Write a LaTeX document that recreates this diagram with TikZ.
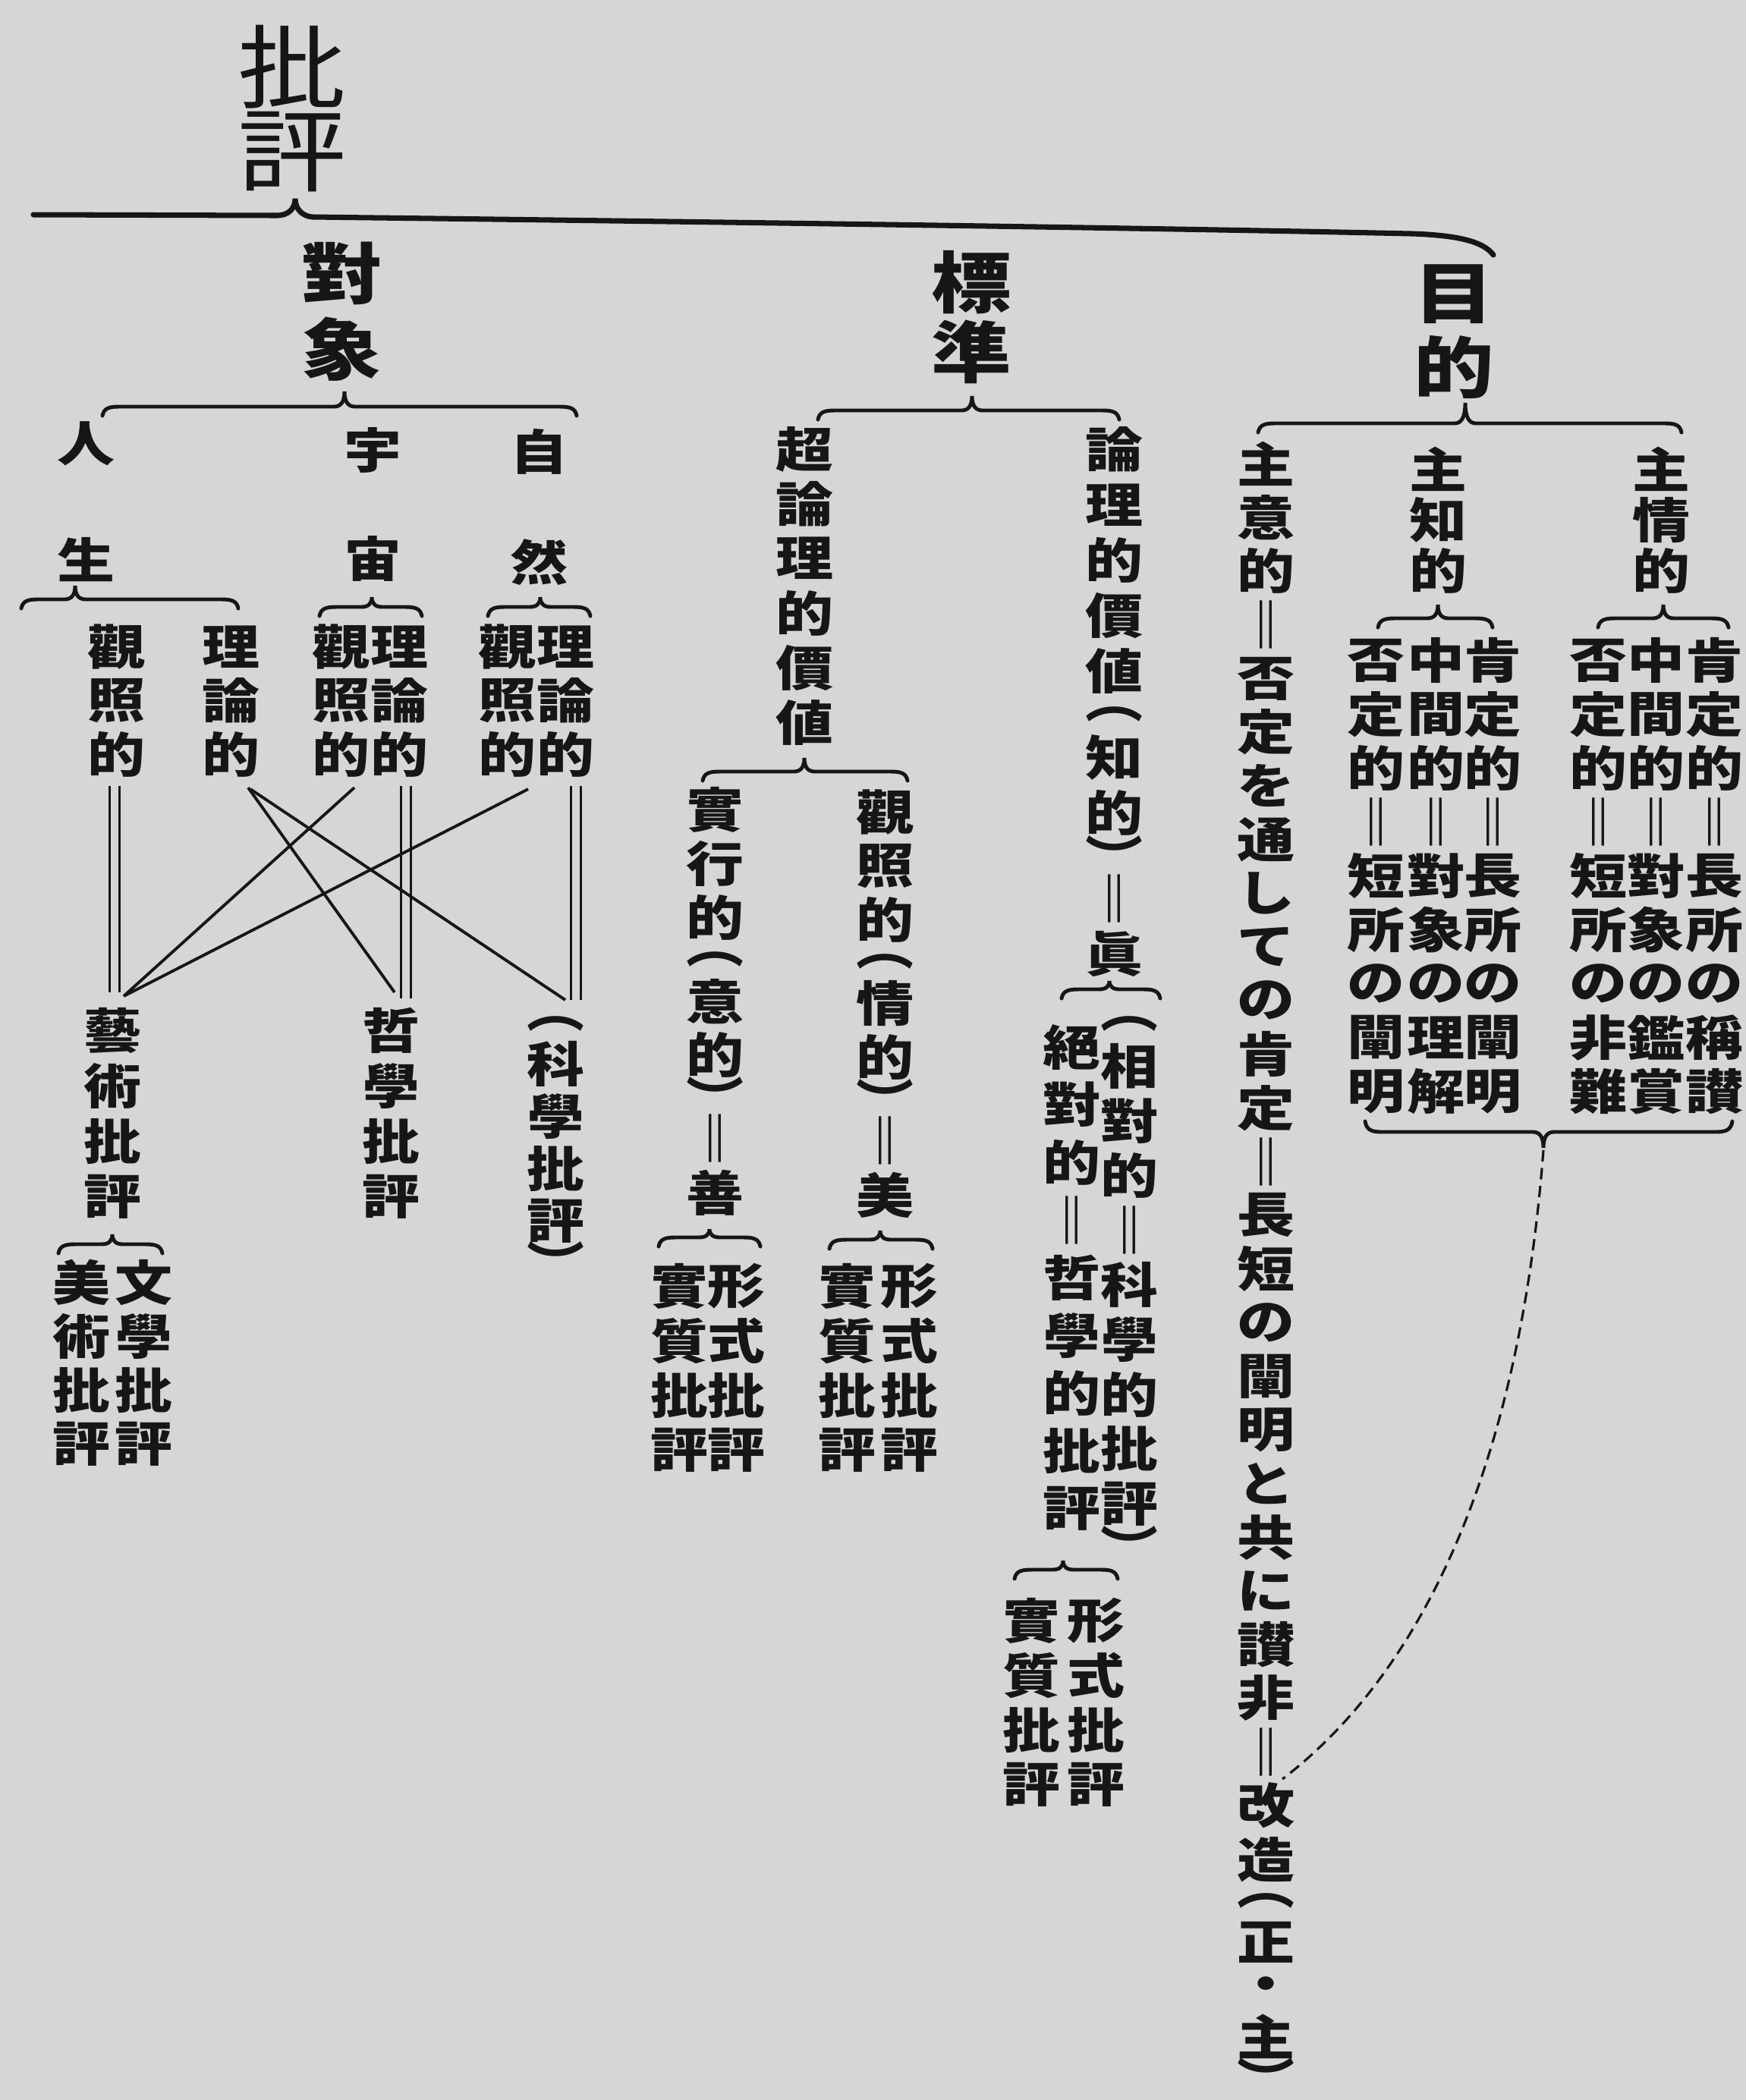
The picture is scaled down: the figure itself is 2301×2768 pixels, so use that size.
\documentclass[tikz,border=0pt]{standalone}
\usepackage{fontspec}
\setmainfont{Noto Sans CJK JP}
\usepackage{graphicx}
\usetikzlibrary{calc}
\definecolor{bg}{RGB}{214,214,212}
\definecolor{ink}{RGB}{22,22,22}
\newlength\vpitch
\newlength\vcw
\makeatletter
\def\vs@end{\vs@end}
\newcommand\vcol[1]{\vbox{\offinterlineskip\vs@#1\vs@end}}
\def\vs@#1{\ifx\vs@end#1\else\vs@cell#1\expandafter\vs@\fi}
\def\vs@cell#1{\ifx︵#1\vs@box{0.55}{#1}\else\ifx︶#1\vs@box{0.55}{#1}\else\ifx・#1\vs@box{0.75}{#1}\else\vs@box{1}{#1}\fi\fi\fi}
\def\vs@box#1#2{\hbox to \vcw{\hss\vbox to #1\vpitch{\vss\hbox{\scalebox{1.2}[1]{#2}}\vss}\hss}}
\makeatother
\tikzset{
  vt/.style={inner sep=0pt, outer sep=0pt, anchor=north, text=ink,
    font={\fontsize{34}{34}\selectfont\setlength\vpitch{#1}\setlength\vcw{1.2em}}},
  vt/.default=1.12cm,
  vh/.style={inner sep=0pt, outer sep=0pt, anchor=north, text=ink,
    font={\fontsize{25}{25}\selectfont\bfseries\setlength\vpitch{#1}\setlength\vcw{1.25em}}},
  vh/.default=1cm,
  vc/.style={inner sep=0pt, outer sep=0pt, anchor=north, text=ink,
    font={\fontsize{18}{18}\selectfont\bfseries\setlength\vpitch{#1}\setlength\vcw{1.25em}}},
  vc/.default=0.71cm,
  br/.style={draw=ink, line width=1.4pt, line cap=round},
  topline/.style={draw=ink, line width=2pt, line cap=round},
  xline/.style={draw=ink, line width=1.1pt},
  dbl/.style={draw=ink, line width=0.85pt, double=bg, double distance=2.8pt},
  dsh/.style={draw=ink, line width=0.9pt, dash pattern=on 4.3pt off 2.4pt}
}
\newcommand\hbr[6]{\draw[br] ({#1},{#3+(#6)}) .. controls ({#1+2},{#3+0.2*(#6)}) and ({#1+8},{#3}) .. ({#1+22},{#3}) -- ({#4-14},{#3}) .. controls ({#4-5},{#3}) and ({#4},{#3+0.3*(#5-#3)}) .. ({#4},{#5}) .. controls ({#4},{#3+0.3*(#5-#3)}) and ({#4+5},{#3}) .. ({#4+14},{#3}) -- ({#2-22},{#3}) .. controls ({#2-8},{#3}) and ({#2-2},{#3+0.2*(#6)}) .. ({#2},{#3+(#6)});}
\begin{document}
\begin{tikzpicture}[x=0.01cm, y=-0.01cm]
\useasboundingbox (0,0) rectangle (2301,2768);
\fill[bg] (0,0) rectangle (2301,2768);

% root and top brace
\node[vt] (root) at (385,32) {\vcol{批評}};
\draw[topline] (44,283) -- (365,284) .. controls (380,284) and (389,275) .. (389,262) .. controls (389,275) and (398,285) .. (412,286) .. controls (900,292) and (1500,300) .. (1860,308) .. controls (1920,310) and (1955,318) .. (1968,336);

% headings
\node[vh=1.00cm] (obj) at (450,310) {\vcol{對象}};
\node[vh=0.91cm] (std) at (1280,327) {\vcol{標準}};
\node[vh=0.96cm] (aim) at (1916,340) {\vcol{目的}};

% ---------- 對象 ----------
\hbr{135}{760}{536}{454}{516}{12}
\node[vc=1.52cm] (jinsei) at (113,509) {\vcol{人生}};
\node[vc=1.43cm] (uchu) at (491,522) {\vcol{宇宙}};
\node[vc=1.45cm] (shizen) at (710,523) {\vcol{自然}};
\hbr{28}{314}{790}{99}{772}{12}
\hbr{421}{556}{800}{490}{787}{12}
\hbr{643}{778}{800}{712}{787}{12}
\node[vc] (A1) at (153,817) {\vcol{觀照的}};
\node[vc] (A2) at (304,817) {\vcol{理論的}};
\node[vc] (B1) at (449,817) {\vcol{觀照的}};
\node[vc] (B2) at (526,817) {\vcol{理論的}};
\node[vc] (C1) at (668,817) {\vcol{觀照的}};
\node[vc] (C2) at (745,817) {\vcol{理論的}};
\node[vc=0.73cm] (art) at (148,1322) {\vcol{藝術批評}};
\node[vc=0.73cm] (phil) at (515,1322) {\vcol{哲學批評}};
\node[vc=0.69cm] (sci) at (732,1330) {\vcol{︵科學批評︶}};
\coordinate (a1t) at ($(A1.south)+(-2,6)$);
\coordinate (b2t) at ($(B2.south)+(9,6)$);
\coordinate (c2t) at ($(C2.south)+(14,6)$);
\draw[dbl, shorten >=0.14cm] (a1t) -- (a1t |- art.north);
\draw[dbl, shorten >=0.06cm] (b2t) -- (b2t |- phil.north);
\draw[dbl, shorten >=0.12cm] (c2t) -- (c2t |- sci.north);
\draw[xline] ($(A2.south)+(23,8)$) -- ($(phil.north)+(5,-14)$);
\draw[xline] ($(A2.south)+(26,10)$) -- ($(sci.north)+(13,-12)$);
\draw[xline] ($(B1.south)+(18,8)$) -- ($(art.north)+(15,-9)$);
\draw[xline] ($(C1.south)+(28,10)$) -- ($(art.north)+(15,-9)$);
\hbr{77}{214}{1640}{148}{1627}{12}
\node[vc] (fine) at (107,1655) {\vcol{美術批評}};
\node[vc] (lit) at (189,1655) {\vcol{文學批評}};

% ---------- 標準 ----------
\hbr{1078}{1475}{541}{1281}{522}{12}
\node[vc=0.72cm] (super) at (1060,556) {\vcol{超論理的價値}};
\node[vc=0.73cm] (logic) at (1468,556) {\vcol{論理的價値︵知的︶‖眞}};
\hbr{926}{1196}{1017}{1060}{999}{12}
\node[vc] (prac) at (942,1032) {\vcol{實行的︵意的︶‖善}};
\node[vc] (cont) at (1166,1035) {\vcol{觀照的︵情的︶‖美}};
\hbr{868}{1002}{1631}{935}{1620}{12}
\hbr{1093}{1229}{1634}{1160}{1622}{12}
\node[vc=0.72cm] (gs) at (895,1659) {\vcol{實質批評}};
\node[vc=0.72cm] (gf) at (970,1659) {\vcol{形式批評}};
\node[vc=0.72cm] (bs) at (1116,1659) {\vcol{實質批評}};
\node[vc=0.72cm] (bf) at (1198,1659) {\vcol{形式批評}};
\hbr{1399}{1529}{1304}{1462}{1293}{12}
\node[vc=0.76cm] (abs) at (1412,1342) {\vcol{絕對的‖哲學的批評}};
\node[vc=0.72cm] (rel) at (1488,1330) {\vcol{︵相對的‖科學的批評︶}};
\hbr{1337}{1473}{2069}{1401}{2057}{12}
\node[vc=0.72cm] (ts) at (1359,2100) {\vcol{實質批評}};
\node[vc=0.72cm] (tf) at (1444,2100) {\vcol{形式批評}};

% ---------- 目的 ----------
\hbr{1658}{2216}{558}{1931}{531}{12}
\node[vc=0.707cm] (will) at (1668,576) {\vcol{主意的‖否定を通しての肯定‖長短の闡明と共に讃非‖改造︵正・主︶}};
\node[vc=0.67cm] (intel) at (1895,585) {\vcol{主知的}};
\node[vc=0.67cm] (emo) at (2189,585) {\vcol{主情的}};
\hbr{1816}{1967}{815}{1895}{797}{12}
\hbr{2106}{2278}{815}{2192}{797}{12}
\node[vc] (i1) at (1813,835) {\vcol{否定的‖短所の闡明}};
\node[vc] (i2) at (1892,835) {\vcol{中間的‖對象の理解}};
\node[vc] (i3) at (1967,835) {\vcol{肯定的‖長所の闡明}};
\node[vc] (e1) at (2106,835) {\vcol{否定的‖短所の非難}};
\node[vc] (e2) at (2182,835) {\vcol{中間的‖對象の鑑賞}};
\node[vc] (e3) at (2259,835) {\vcol{肯定的‖長所の稱讃}};
\hbr{1799}{2283}{1492}{2034}{1513}{-14}
\coordinate (tip) at (2034,1516);
\coordinate (kaizo) at (1690,2345);
\draw[dsh] (tip) .. controls (2000,1960) and (1860,2215) .. (kaizo);
\end{tikzpicture}
\end{document}
